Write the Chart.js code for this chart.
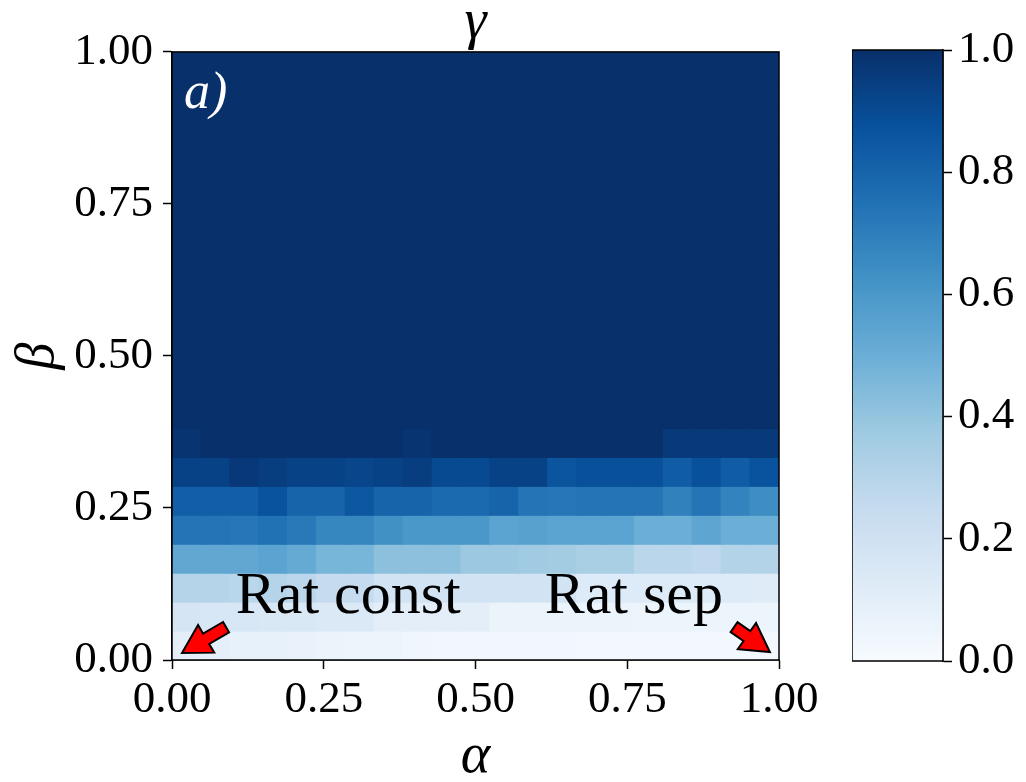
<!DOCTYPE html>
<html lang="en">
<head>
    <meta charset="UTF-8">
    <title>gamma(alpha, beta)</title>
    <script src="https://cdn.jsdelivr.net/npm/chart.js"></script>
    <style>
        html, body { margin: 0; padding: 0; background: #fff; }
        #wrap { position: relative; width: 1026px; height: 782px; overflow: hidden; }
        #mapCanvas { position: absolute; left: 0; top: 0; }
        #barCanvas { position: absolute; left: 852px; top: 0; }
    </style>
</head>
<body>
<div id="wrap">
    <canvas id="mapCanvas" width="850" height="782"></canvas>
    <canvas id="barCanvas" width="174" height="782"></canvas>
</div>

<script>
    // grid of the parameters (imshow cells, 21 x 21)
    const alphaGrid = [0.00, 0.05, 0.10, 0.15, 0.20, 0.25, 0.30, 0.35, 0.40, 0.45, 0.50,
                       0.55, 0.60, 0.65, 0.70, 0.75, 0.80, 0.85, 0.90, 0.95, 1.00];
    const betaGrid = [0.00, 0.05, 0.10, 0.15, 0.20, 0.25, 0.30, 0.35, 0.40, 0.45, 0.50,
                      0.55, 0.60, 0.65, 0.70, 0.75, 0.80, 0.85, 0.90, 0.95, 1.00];

    // gamma values, one row per beta (bottom row first)
    const gammaBeta000 = [0.10, 0.09, 0.08, 0.08, 0.07, 0.06, 0.05, 0.05, 0.04, 0.03, 0.03, 0.03, 0.03, 0.03, 0.02, 0.02, 0.02, 0.02, 0.02, 0.02, 0.02];
    const gammaBeta005 = [0.17, 0.16, 0.16, 0.15, 0.15, 0.14, 0.14, 0.10, 0.10, 0.10, 0.10, 0.06, 0.06, 0.06, 0.06, 0.06, 0.05, 0.05, 0.05, 0.05, 0.05];
    const gammaBeta010 = [0.30, 0.30, 0.29, 0.30, 0.28, 0.25, 0.25, 0.19, 0.19, 0.19, 0.19, 0.19, 0.19, 0.19, 0.13, 0.13, 0.13, 0.13, 0.13, 0.13, 0.12];
    const gammaBeta015 = [0.53, 0.53, 0.53, 0.55, 0.52, 0.47, 0.47, 0.42, 0.42, 0.42, 0.38, 0.38, 0.37, 0.36, 0.34, 0.34, 0.29, 0.29, 0.27, 0.31, 0.31];
    const gammaBeta020 = [0.74, 0.74, 0.73, 0.75, 0.72, 0.67, 0.67, 0.63, 0.60, 0.60, 0.60, 0.55, 0.56, 0.55, 0.55, 0.55, 0.50, 0.50, 0.54, 0.50, 0.50];
    const gammaBeta025 = [0.82, 0.82, 0.82, 0.87, 0.80, 0.80, 0.85, 0.80, 0.80, 0.78, 0.78, 0.80, 0.74, 0.73, 0.74, 0.74, 0.74, 0.69, 0.74, 0.68, 0.64];
    const gammaBeta030 = [0.93, 0.93, 0.97, 0.95, 0.93, 0.93, 0.92, 0.93, 0.95, 0.90, 0.90, 0.93, 0.93, 0.86, 0.88, 0.88, 0.88, 0.83, 0.88, 0.83, 0.87];
    const gammaBeta035 = [0.985, 1.00, 1.00, 1.00, 1.00, 1.00, 1.00, 1.00, 0.985, 1.00, 1.00, 1.00, 1.00, 1.00, 1.00, 1.00, 1.00, 0.965, 0.965, 0.965, 0.965];
    // beta >= 0.40: saturated
    const gammaSaturated = [1.00, 1.00, 1.00, 1.00, 1.00, 1.00, 1.00, 1.00, 1.00, 1.00, 1.00, 1.00, 1.00, 1.00, 1.00, 1.00, 1.00, 1.00, 1.00, 1.00, 1.00];

    const gammaRows = [gammaBeta000, gammaBeta005, gammaBeta010, gammaBeta015, gammaBeta020,
                       gammaBeta025, gammaBeta030, gammaBeta035,
                       gammaSaturated, gammaSaturated, gammaSaturated, gammaSaturated, gammaSaturated,
                       gammaSaturated, gammaSaturated, gammaSaturated, gammaSaturated, gammaSaturated,
                       gammaSaturated, gammaSaturated, gammaSaturated];

    const axisTicks = [0, 0.25, 0.5, 0.75, 1];
    const colorbarTicks = [0, 0.2, 0.4, 0.6, 0.8, 1];

    // annotations (data coordinates)
    const notes = [
        { text: 'Rat const', at: [0.105, 0.078], tail: [0.089, 0.054], tip: [0.0165, 0.0115] },
        { text: 'Rat sep', at: [0.614, 0.078], tail: [0.926, 0.054], tip: [0.985, 0.013] }
    ];

    // matplotlib "Blues"
    const bluesStops = ['#f7fbff', '#deebf7', '#c6dbef', '#9ecae1', '#6baed6',
                        '#4292c6', '#2171b5', '#08519c', '#08306b'];

    function hexRgb(h) {
        return [parseInt(h.slice(1, 3), 16), parseInt(h.slice(3, 5), 16), parseInt(h.slice(5, 7), 16)];
    }
    function blues(v) {
        v = Math.min(1, Math.max(0, v));
        const pos = v * (bluesStops.length - 1);
        const i = Math.min(bluesStops.length - 2, Math.floor(pos));
        const t = pos - i;
        const a = hexRgb(bluesStops[i]), b = hexRgb(bluesStops[i + 1]);
        const c = a.map((x, k) => Math.round(x + (b[k] - x) * t));
        return 'rgb(' + c.join(',') + ')';
    }

    // cells of the image, extent [0,1] x [0,1]
    const nCol = alphaGrid.length, nRow = betaGrid.length;
    const cells = [];
    betaGrid.forEach((b, j) => {
        alphaGrid.forEach((a, i) => {
            cells.push({ x: (i + 0.5) / nCol, y: [j / nRow, (j + 1) / nRow], v: gammaRows[j][i] });
        });
    });

    const serif = "'Liberation Serif', 'DejaVu Serif', serif";
    const tickFont = { family: serif, size: 45, weight: 'normal' };

    const framePlugin = {
        id: 'frame',
        afterDraw(chart) {
            const { ctx, chartArea: a } = chart;
            ctx.save();
            ctx.strokeStyle = '#000';
            ctx.lineWidth = 1.5;
            ctx.strokeRect(a.left, a.top, a.right - a.left, a.bottom - a.top);
            ctx.restore();
        }
    };

    const notesPlugin = {
        id: 'notes',
        afterDatasetsDraw(chart) {
            const { ctx, scales: { x, y }, chartArea: a } = chart;
            ctx.save();
            // panel label
            ctx.fillStyle = '#fff';
            ctx.font = 'italic 52px ' + serif;
            ctx.textBaseline = 'alphabetic';
            ctx.fillText('a)', a.left + 12, a.top + 56);

            notes.forEach(n => {
                ctx.fillStyle = '#000';
                ctx.font = 'normal 60px ' + serif;
                ctx.fillText(n.text, x.getPixelForValue(n.at[0]), y.getPixelForValue(n.at[1]));

                const tx = x.getPixelForValue(n.tail[0]), ty = y.getPixelForValue(n.tail[1]);
                const px = x.getPixelForValue(n.tip[0]), py = y.getPixelForValue(n.tip[1]);
                const len = Math.hypot(px - tx, py - ty);
                const dx = (px - tx) / len, dy = (py - ty) / len;
                const nx = -dy, ny = dx;
                const w = 6, hw = 16, hl = 28;
                const hx = px - dx * hl, hy = py - dy * hl;
                ctx.beginPath();
                ctx.moveTo(tx + nx * w, ty + ny * w);
                ctx.lineTo(hx + nx * w, hy + ny * w);
                ctx.lineTo(hx + nx * hw, hy + ny * hw);
                ctx.lineTo(px, py);
                ctx.lineTo(hx - nx * hw, hy - ny * hw);
                ctx.lineTo(hx - nx * w, hy - ny * w);
                ctx.lineTo(tx - nx * w, ty - ny * w);
                ctx.closePath();
                ctx.fillStyle = '#ff0000';
                ctx.fill();
                ctx.lineWidth = 2;
                ctx.lineJoin = 'miter';
                ctx.strokeStyle = '#000';
                ctx.stroke();
            });
            ctx.restore();
        }
    };

    new Chart(document.getElementById('mapCanvas'), {
        type: 'bar',
        data: {
            datasets: [{
                data: cells,
                backgroundColor: ctx => blues(ctx.raw ? ctx.raw.v : 0),
                borderWidth: 0,
                inflateAmount: 0.6,
                barPercentage: 1,
                categoryPercentage: 1
            }]
        },
        options: {
            responsive: false,
            animation: false,
            layout: { padding: { top: 0, left: 0, right: 71, bottom: 0 } },
            plugins: {
                legend: { display: false },
                tooltip: { enabled: false },
                title: {
                    display: true,
                    text: 'γ',
                    fullSize: false,
                    color: '#000',
                    font: { family: serif, size: 56, style: 'italic', weight: 'normal', lineHeight: 0.82 },
                    padding: { top: 0, bottom: 6 }
                }
            },
            scales: {
                x: {
                    type: 'linear',
                    min: 0,
                    max: 1,
                    offset: false,
                    afterBuildTicks: s => { s.ticks = axisTicks.map(v => ({ value: v })); },
                    afterFit: s => { s.height = 122; },
                    ticks: { font: tickFont, color: '#000', padding: 4, maxRotation: 0, autoSkip: false,
                             callback: v => Number(v).toFixed(2) },
                    grid: { offset: false, drawOnChartArea: false, drawTicks: true, tickLength: 9, tickColor: '#000', tickWidth: 1.5 },
                    border: { display: true, color: '#000', width: 1.5 },
                    title: { display: true, text: 'α', color: '#000',
                             font: { family: serif, size: 56, style: 'italic', lineHeight: 0.8 },
                             padding: { top: 0, bottom: 2 } }
                },
                y: {
                    type: 'linear',
                    min: 0,
                    max: 1,
                    afterBuildTicks: s => { s.ticks = axisTicks.map(v => ({ value: v })); },
                    afterFit: s => { s.width = 172; },
                    ticks: { font: tickFont, color: '#000', padding: 10,
                             callback: v => Number(v).toFixed(2) },
                    grid: { drawOnChartArea: false, drawTicks: true, tickLength: 9, tickColor: '#000', tickWidth: 1.5 },
                    border: { display: true, color: '#000', width: 1.5 },
                    title: { display: true, text: 'β', color: '#000',
                             font: { family: serif, size: 54, style: 'italic', lineHeight: 1 },
                             padding: { top: 12, bottom: 0 } }
                }
            }
        },
        plugins: [notesPlugin, framePlugin]
    });

    // colour bar
    new Chart(document.getElementById('barCanvas'), {
        type: 'bar',
        data: {
            labels: [''],
            datasets: [{
                data: [[0, 1]],
                backgroundColor: ctx => {
                    const a = ctx.chart.chartArea;
                    if (!a) return bluesStops[4];
                    const g = ctx.chart.ctx.createLinearGradient(0, a.bottom, 0, a.top);
                    bluesStops.forEach((c, i) => g.addColorStop(i / (bluesStops.length - 1), c));
                    return g;
                },
                borderWidth: 0,
                barPercentage: 1,
                categoryPercentage: 1
            }]
        },
        options: {
            responsive: false,
            animation: false,
            layout: { padding: { top: 50, bottom: 121, left: 0, right: 0 } },
            plugins: { legend: { display: false }, tooltip: { enabled: false } },
            scales: {
                x: { display: false },
                y: {
                    position: 'right',
                    min: 0,
                    max: 1,
                    afterBuildTicks: s => { s.ticks = colorbarTicks.map(v => ({ value: v })); },
                    afterFit: s => { s.width = 83; },
                    ticks: { font: tickFont, color: '#000', padding: 6,
                             callback: v => Number(v).toFixed(1) },
                    grid: { drawOnChartArea: false, drawTicks: true, tickLength: 9, tickColor: '#000', tickWidth: 1.5 },
                    border: { display: true, color: '#000', width: 1.5 }
                }
            }
        },
        plugins: [framePlugin]
    });
</script>
</body>
</html>
